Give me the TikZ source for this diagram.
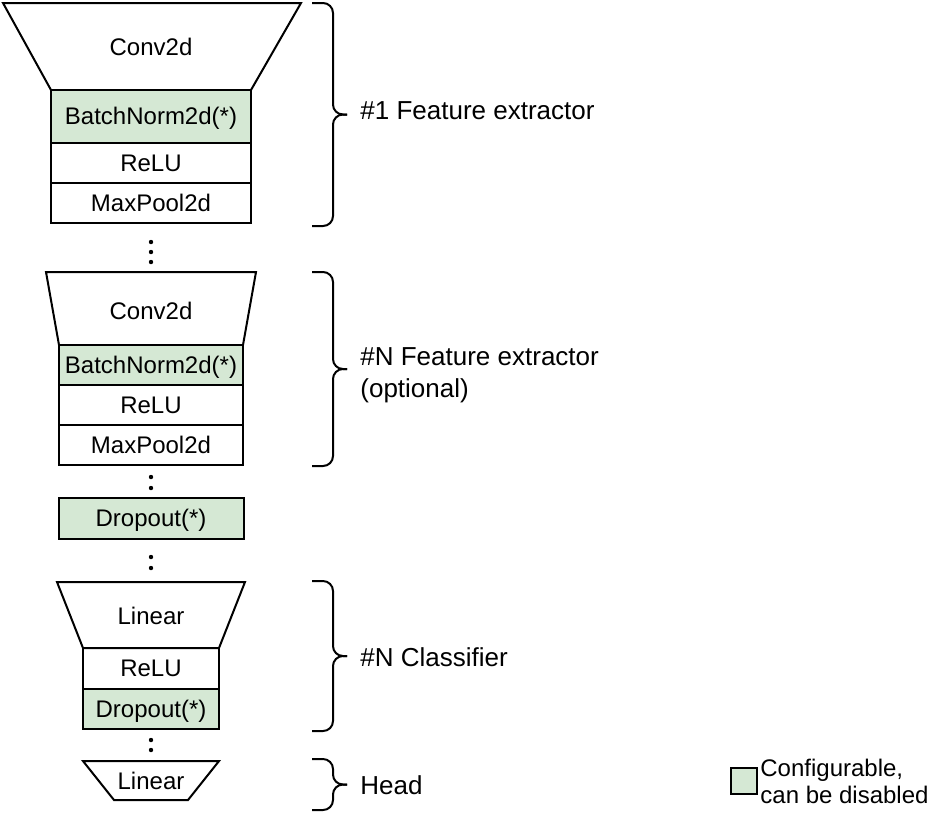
\documentclass[tikz,border=0pt]{standalone}
\usepackage{fontspec}
\setmainfont{Liberation Sans}
\usetikzlibrary{positioning}
\definecolor{cfg}{HTML}{D5E8D4}
\tikzset{
    box/.style={draw, line width=1pt, inner sep=0pt, outer sep=0pt,
        minimum height=20pt, text height=10.9pt, text depth=2.5pt,
        font=\fontsize{12}{14}\selectfont},
    opt/.style={box, fill=cfg},
    trap/.style={draw, line width=1pt},
    txt/.style={inner sep=0pt, text height=10.9pt, text depth=2.5pt,
        font=\fontsize{12}{14}\selectfont},
    side/.style={anchor=west, align=left, inner sep=0pt,
        font=\fontsize{13}{16}\selectfont},
    curly/.style={line width=1pt, rounded corners=5pt},
}
% curly bracket: top, bottom, name of its tip
\newcommand{\curlybr}[3]{%
    \draw[curly] (312,#1) -| (333,{(#1+#2)/2}) -- (347,{(#1+#2)/2});
    \draw[curly] (312,#2) -| (333,{(#1+#2)/2}) -- (347,{(#1+#2)/2});
    \coordinate (#3) at (347,{(#1+#2)/2});
}
\begin{document}
\begin{tikzpicture}[x=0.5pt, y=-0.5pt]
    \useasboundingbox (0,0) rectangle (940,816);

    % feature extractor 1
    \draw[trap] (3,3) -- (301,3) -- (251,90) -- (51,90) -- cycle;
    \node[txt] (conv1) at (151,47) {Conv2d};
    \node[opt, minimum width=100pt, minimum height=26.5pt, anchor=north] (bn1) at (151,90) {BatchNorm2d(*)};
    \node[box, minimum width=100pt, below=0pt of bn1] (relu1) {ReLU};
    \node[box, minimum width=100pt, below=0pt of relu1] (pool1) {MaxPool2d};

    \foreach \y in {242,252,262}
        \fill (151,\y) circle[radius=1.1pt];

    % feature extractor N
    \draw[trap] (46,272) -- (256,272) -- (243,345) -- (59,345) -- cycle;
    \node[txt] (conv2) at (151,311) {Conv2d};
    \node[opt, minimum width=92pt, anchor=north] (bn2) at (151,345) {BatchNorm2d(*)};
    \node[box, minimum width=92pt, below=0pt of bn2] (relu2) {ReLU};
    \node[box, minimum width=92pt, below=0pt of relu2] (pool2) {MaxPool2d};

    \foreach \y in {477,488}
        \fill (151,\y) circle[radius=1.1pt];

    \node[opt, minimum width=92.5pt, minimum height=20.5pt, anchor=north] (drop1) at (151,498) {Dropout(*)};

    \foreach \y in {557,568}
        \fill (151,\y) circle[radius=1.1pt];

    % classifier
    \draw[trap] (57,582) -- (245,582) -- (219,648) -- (83,648) -- cycle;
    \node[txt] (lin1) at (151,616) {Linear};
    \node[box, minimum width=68pt, minimum height=20.5pt, anchor=north] (relu3) at (151,648) {ReLU};
    \node[opt, minimum width=68pt, below=0pt of relu3] (drop2) {Dropout(*)};

    \foreach \y in {740,750}
        \fill (151,\y) circle[radius=1.1pt];

    % head
    \draw[trap] (83,761) -- (219,761) -- (188,800) -- (114,800) -- cycle;
    \node[txt] (lin2) at (151,781) {Linear};

    % brackets and their labels
    \curlybr{3}{226}{tip1}
    \curlybr{272}{466}{tip2}
    \curlybr{581}{731}{tip3}
    \curlybr{759}{810}{tip4}
    \node[side, text height=10.9pt, text depth=2.5pt, right=6.5pt of tip1, yshift=1.5pt] (fe1) {\#1 Feature extractor};
    \node[side, right=6.5pt of tip2, yshift=-3pt] (fe2) {\#N Feature extractor\\(optional)};
    \node[side, text height=10.9pt, text depth=2.5pt, right=6.5pt of tip3, yshift=-1pt] (cls) {\#N Classifier};
    \node[side, text height=10.9pt, text depth=2.5pt, right=6.5pt of tip4, yshift=-1pt] (head) {Head};

    % legend
    \node[opt, minimum width=13pt, minimum height=13pt] (key) at (744,781) {};
    \node[side, font=\fontsize{12}{13.5}\selectfont, right=1.5pt of key] (keytxt) {Configurable,\\can be disabled};
\end{tikzpicture}
\end{document}
